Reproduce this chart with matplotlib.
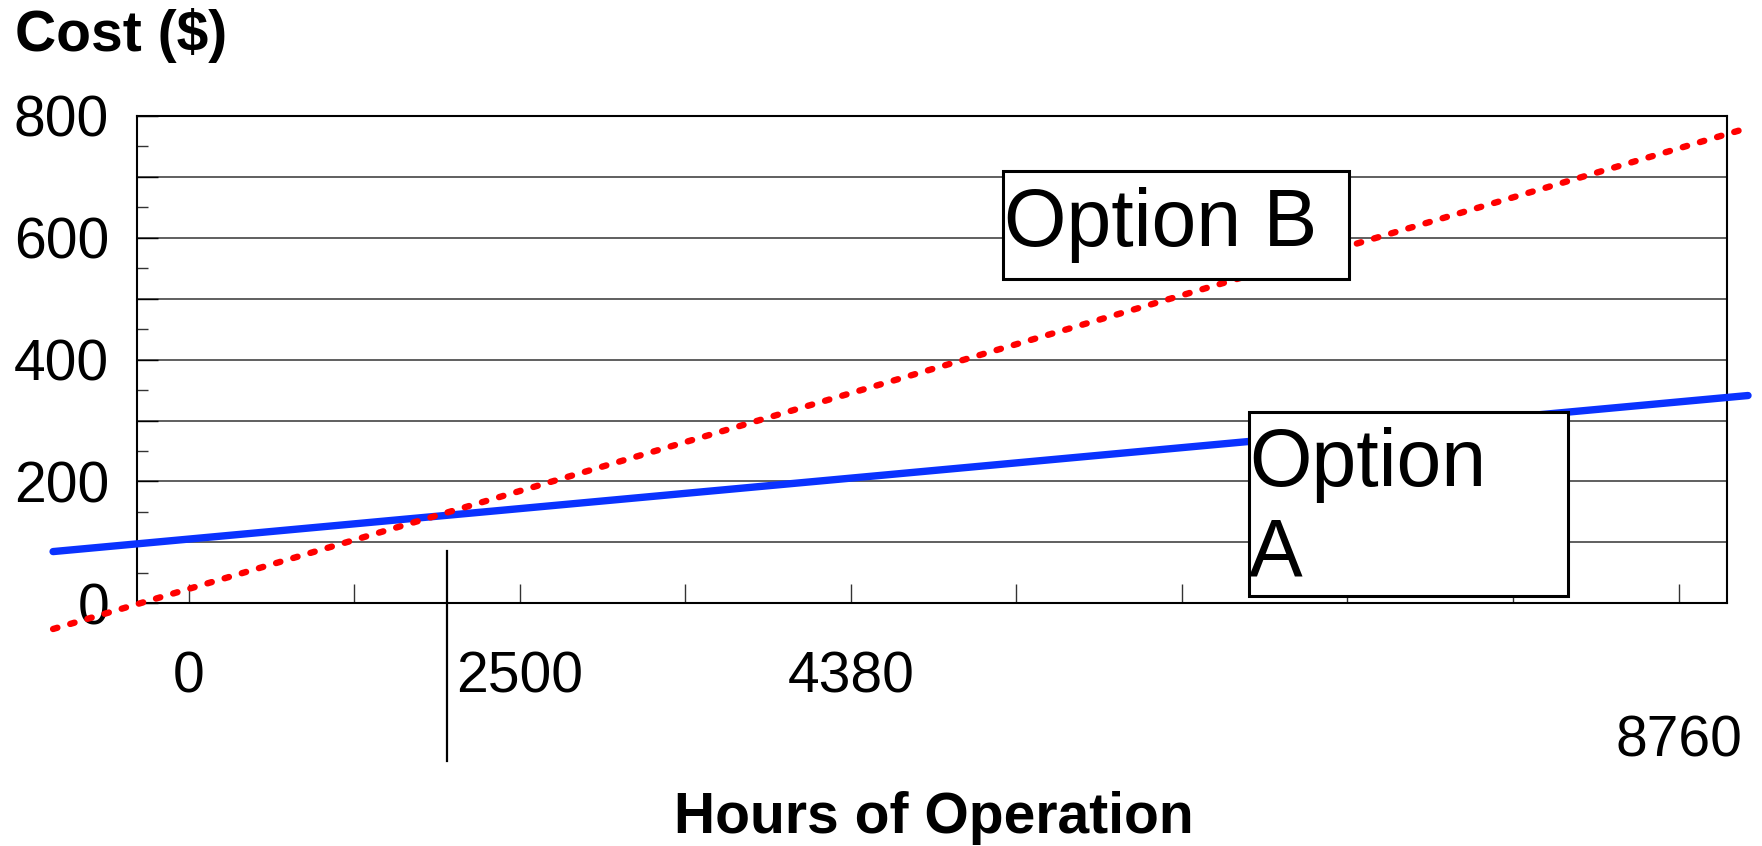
import matplotlib
matplotlib.use("Agg")
import matplotlib.pyplot as plt
from matplotlib.patches import Rectangle
from matplotlib.transforms import ScaledTranslation

# ---- data ----
hours = [-820, 9420]
option_a_cost = [85, 341]
option_b_cost = [-42, 780]
x_ticks = [0, 1000, 2000, 3000, 4000, 5000, 6000, 7000, 8000, 9000]
x_tick_labels = ["0", "", "2500", "", "4380", "", "", "", "", "8760"]
y_ticks = [0, 100, 200, 300, 400, 500, 600, 700, 800]
y_tick_labels = ["0", "", "200", "", "400", "", "600", "", "800"]
y_minor_ticks = [50, 150, 250, 350, 450, 550, 650, 750]
breakeven_hours = 1560
breakeven_span = [86, -258]

plt.rcParams['font.family'] = ['Liberation Sans', 'DejaVu Sans']

W, H = 1762, 846
fig = plt.figure(figsize=(W / 100, H / 100), dpi=100)


def fx(px):
    return px / W


def fy(py):
    return 1 - py / H


ax = fig.add_axes([fx(137), fy(603.4), fx(1727) - fx(137), fy(115.7) - fy(603.4)])
ax.set_xlim(-313, 9293)
ax.set_ylim(0, 800)

# grid
ax.set_yticks(y_ticks)
ax.set_yticklabels(y_tick_labels)
ax.set_yticks(y_minor_ticks, minor=True)
ax.yaxis.grid(True, which='major', color='#444444', linewidth=1.2, zorder=0)
ax.tick_params(axis='y', which='major', direction='in', length=15, width=1,
               labelsize=41, pad=20, color='black')
ax.tick_params(axis='y', which='minor', direction='in', length=8, width=1,
               color='#333333')

ax.set_xticks(x_ticks)
ax.set_xticklabels(x_tick_labels)
ax.tick_params(axis='x', which='major', direction='in', length=14, width=1,
               labelsize=41, pad=34, color='#333333')
lbls = ax.get_xticklabels()
lbls[9].set_transform(lbls[9].get_transform() +
                      ScaledTranslation(0, -46 / 72, fig.dpi_scale_trans))

for s in ax.spines.values():
    s.set_linewidth(1.5)
    s.set_color('black')

# lines
ax.plot(hours, option_a_cost, color='#0a32ff', linewidth=5.3,
        solid_capstyle='round', clip_on=False, zorder=4)
ax.plot(hours, option_b_cost, color='#ff0000', linewidth=4.6,
        linestyle=(0, (0.7, 2.1)), dash_capstyle='round', clip_on=False, zorder=5)
ax.plot([breakeven_hours, breakeven_hours], breakeven_span, color='black',
        linewidth=1.6, clip_on=False, zorder=3)

# labelled boxes
fig.patches.append(Rectangle((fx(1002.5), fy(278.5)), fx(1349) - fx(1002.5),
                             fy(171) - fy(278.5), transform=fig.transFigure,
                             facecolor='white', edgecolor='black', linewidth=2.2,
                             zorder=10))
fig.text(fx(1004), fy(246), "Option B", fontsize=58, ha='left', va='baseline',
         zorder=11)
fig.patches.append(Rectangle((fx(1249), fy(596)), fx(1568) - fx(1249),
                             fy(412) - fy(596), transform=fig.transFigure,
                             facecolor='white', edgecolor='black', linewidth=2.2,
                             zorder=10))
fig.text(fx(1249), fy(486), "Option", fontsize=58, ha='left', va='baseline',
         zorder=11)
fig.text(fx(1249), fy(576), "A", fontsize=58, ha='left', va='baseline',
         zorder=11)

# axis titles
fig.text(fx(15), fy(51), "Cost ($)", fontsize=41, fontweight='bold',
         ha='left', va='baseline')
fig.text(fx(934), fy(833), "Hours of Operation", fontsize=41, fontweight='bold',
         ha='center', va='baseline')

fig.savefig("out.png", dpi=100)
